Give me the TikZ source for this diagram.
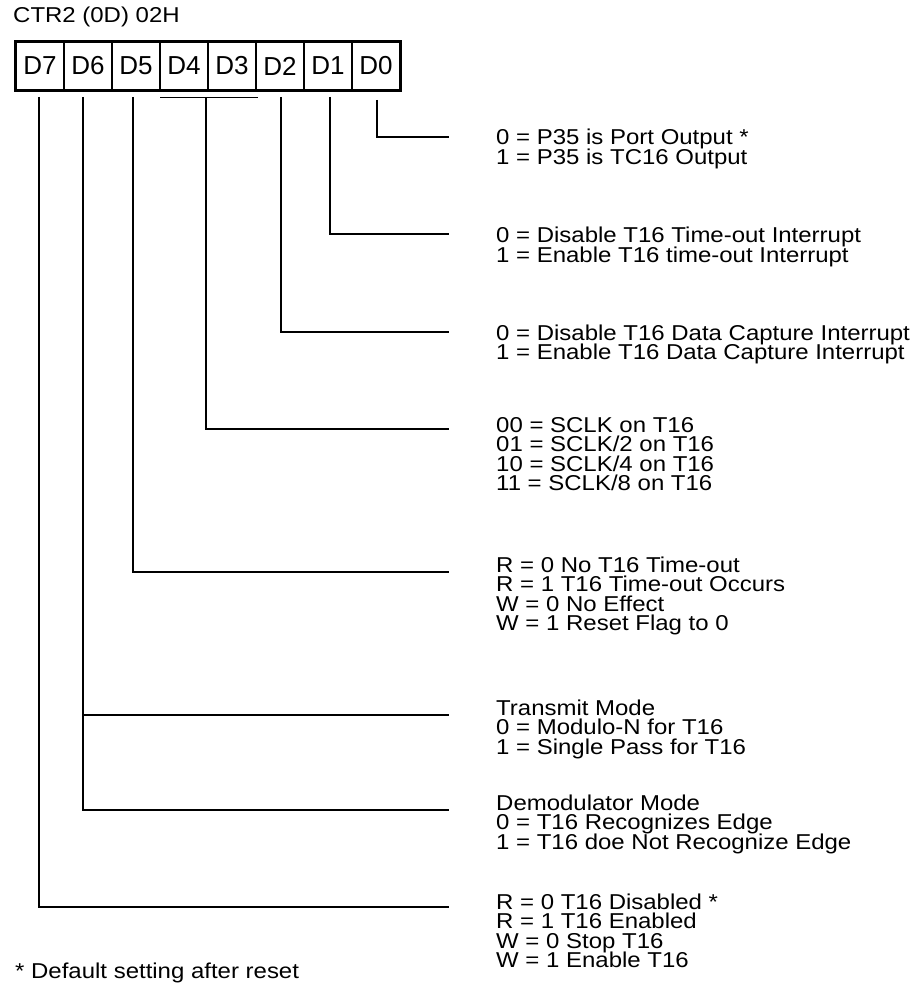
\documentclass[tikz,border=0pt]{standalone}
\usepackage{fontspec}
\setmainfont{Liberation Sans}
\newfontfamily\descfont{Liberation Sans}[FakeStretch=1.115]
\begin{document}
\begin{tikzpicture}[x=1pt,y=-1pt,
  conn/.style={line width=1.6pt},
  txt/.style={anchor=base west, inner sep=0pt, font=\descfont\fontsize{21.5}{19.5}\selectfont},
  cell/.style={draw, line width=1.5pt, minimum width=48pt, minimum height=48pt, inner sep=0pt, font=\fontsize{26}{26}\selectfont}]
\useasboundingbox (0,0) rectangle (914,984);
\newcommand\textblock[3]{%
  \foreach \l [count=\i from 0] in {#3} {\node[txt] (#1-\i) at (496,{#2+19.5*\i}) {\l};}}
% title
\node[txt] (title) at (13,23) {CTR2 (0D) 02H};
% register cells
\foreach \b [count=\i from 0] in {7,6,5,4,3,2,1,0}
  \node[cell] (d\b) at ({40+48*\i},66) {D\b};
\draw[line width=3pt] (d7.north west) rectangle (d0.south east);
% text blocks
\textblock{b0}{145}{{0 = P35 is Port Output *},{1 = P35 is TC16 Output}}
\textblock{b1}{243}{{0 = Disable T16 Time-out Interrupt},{1 = Enable T16 time-out Interrupt}}
\textblock{b2}{340}{{0 = Disable T16 Data Capture Interrupt},{1 = Enable T16 Data Capture Interrupt}}
\textblock{b43}{432}{{00 = SCLK on T16},{01 = SCLK/2 on T16},{10 = SCLK/4 on T16},{11 = SCLK/8 on T16}}
\textblock{b5}{572}{{R = 0 No T16 Time-out},{R = 1 T16 Time-out Occurs},{W = 0 No Effect},{W = 1 Reset Flag to 0}}
\textblock{b6a}{715}{{Transmit Mode},{0 = Modulo-N for T16},{1 = Single Pass for T16}}
\textblock{b6b}{810}{{Demodulator Mode},{0 = T16 Recognizes Edge},{1 = T16 doe Not Recognize Edge}}
\textblock{b7}{909}{{R = 0 T16 Disabled *},{R = 1 T16 Enabled},{W = 0 Stop T16},{W = 1 Enable T16}}
\node[txt] (foot) at (15,978) {* Default setting after reset};
% connector coordinates
\coordinate (s0) at (377,100); \coordinate (e0) at (449,137);
\coordinate (s1) at (330,97);  \coordinate (e1) at (449,234);
\coordinate (s2) at (281,97);  \coordinate (e2) at (449,332);
\coordinate (bl) at (160,97.5); \coordinate (br) at (258,97.5);
\coordinate (s43) at (206,97.5); \coordinate (e43) at (449,429);
\coordinate (s5) at (133,97);  \coordinate (e5) at (449,572);
\coordinate (s6) at (83,97);   \coordinate (e6a) at (449,715); \coordinate (e6b) at (449,810);
\coordinate (j6) at (83,715);
\coordinate (s7) at (39,97);   \coordinate (e7) at (449,907);
% connectors
\draw[conn] (s0) |- (e0);
\draw[conn] (s1) |- (e1);
\draw[conn] (s2) |- (e2);
\draw[conn] (bl) -- (br);
\draw[conn] (s43) |- (e43);
\draw[conn] (s5) |- (e5);
\draw[conn] (s6) |- (e6b);
\draw[conn] (j6) -- (e6a);
\draw[conn] (s7) |- (e7);
\end{tikzpicture}
\end{document}
